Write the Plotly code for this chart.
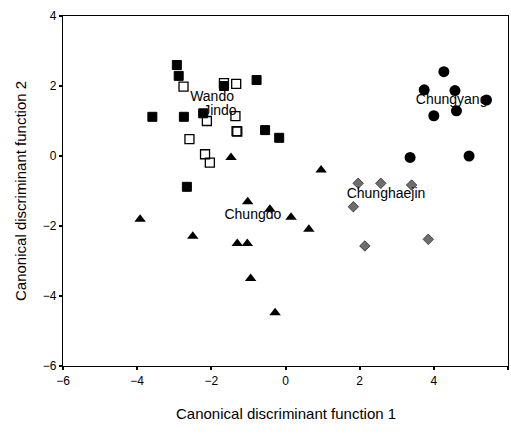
import plotly.graph_objects as go

# Wando (filled squares)
wando_x = [-2.93, -2.88, -3.59, -2.74, -2.22, -1.66, -2.66, -0.78, -0.55, -0.17]
wando_y = [2.60, 2.29, 1.12, 1.12, 1.22, 2.00, -0.88, 2.17, 0.74, 0.52]
# Jindo (open squares)
jindo_x = [-2.75, -1.33, -1.66, -2.12, -1.35, -1.32, -1.30, -2.59, -2.17, -2.04]
jindo_y = [1.98, 2.06, 2.08, 1.00, 1.14, 0.71, 0.70, 0.48, 0.05, -0.19]
# Chungdo (triangles)
chungdo_x = [-1.47, 0.96, -1.02, -0.42, 0.15, 0.63, -3.92, -2.50, -1.30, -1.03, -0.94, -0.28]
chungdo_y = [-0.04, -0.40, -1.31, -1.52, -1.75, -2.09, -1.81, -2.29, -2.50, -2.50, -3.50, -4.48]
# Chungyang (filled circles)
chungyang_x = [4.27, 3.74, 4.57, 5.42, 4.61, 4.00, 3.36, 4.95]
chungyang_y = [2.41, 1.89, 1.87, 1.60, 1.29, 1.15, -0.04, 0.00]
# Chunghaejin (grey diamonds)
chunghaejin_x = [1.96, 2.57, 3.40, 1.83, 3.85, 2.14]
chunghaejin_y = [-0.78, -0.78, -0.83, -1.45, -2.38, -2.57]

# group labels (centroid names)
label_text = ["Wando", "Jindo", "Chungdo", "Chunghaejin", "Chungyang"]
label_x = [-1.98, -1.77, -0.88, 2.71, 4.48]
label_y = [1.66, 1.28, -1.69, -1.11, 1.60]

x_ticks = [-6, -4, -2, 0, 2, 4, 6]
y_ticks = [-6, -4, -2, 0, 2, 4]

fig = go.Figure()
fig.add_trace(go.Scatter(x=wando_x, y=wando_y, mode="markers",
                         marker=dict(symbol="square", size=9, color="black",
                                     line=dict(color="black", width=1))))
fig.add_trace(go.Scatter(x=jindo_x, y=jindo_y, mode="markers",
                         marker=dict(symbol="square-open", size=9, color="black",
                                     line=dict(color="black", width=1.3))))
fig.add_trace(go.Scatter(x=chungdo_x, y=chungdo_y, mode="markers",
                         marker=dict(symbol="triangle-up", size=10, color="black",
                                     line=dict(width=0))))
fig.add_trace(go.Scatter(x=chungyang_x, y=chungyang_y, mode="markers",
                         marker=dict(symbol="circle", size=11, color="black",
                                     line=dict(width=0))))
fig.add_trace(go.Scatter(x=chunghaejin_x, y=chunghaejin_y, mode="markers",
                         marker=dict(symbol="diamond", size=8, color="#6e6e6e",
                                     line=dict(color="#444444", width=1))))
fig.add_trace(go.Scatter(x=label_x, y=label_y, mode="text", text=label_text,
                         textposition="middle center",
                         textfont=dict(family="Liberation Sans, Arial", size=14, color="black")))

axis_common = dict(showgrid=False, zeroline=False, showline=True, linecolor="black",
                   linewidth=1.3, mirror=True, ticks="outside", ticklen=3, tickwidth=1.5,
                   tickcolor="black",
                   tickfont=dict(family="Liberation Sans, Arial", size=12, color="black"))

fig.update_layout(
    width=511, height=435,
    margin=dict(l=63, r=3, t=16, b=69),
    plot_bgcolor="white", paper_bgcolor="white",
    showlegend=False,
    xaxis=dict(range=[-6, 6], tickvals=x_ticks, **axis_common),
    yaxis=dict(range=[-6, 4], tickvals=y_ticks, **axis_common),
    annotations=[
        dict(text="Canonical discriminant function 1", x=0.5, y=0, xref="paper", yref="paper",
             yshift=-47, yanchor="middle", showarrow=False,
             font=dict(family="Liberation Sans, Arial", size=15, color="black")),
        dict(text="Canonical discriminant function 2", x=0, y=0.5, xref="paper", yref="paper",
             xshift=-43, xanchor="center", textangle=-90, showarrow=False,
             font=dict(family="Liberation Sans, Arial", size=15, color="black")),
    ],
)

fig.write_html("out.html")
